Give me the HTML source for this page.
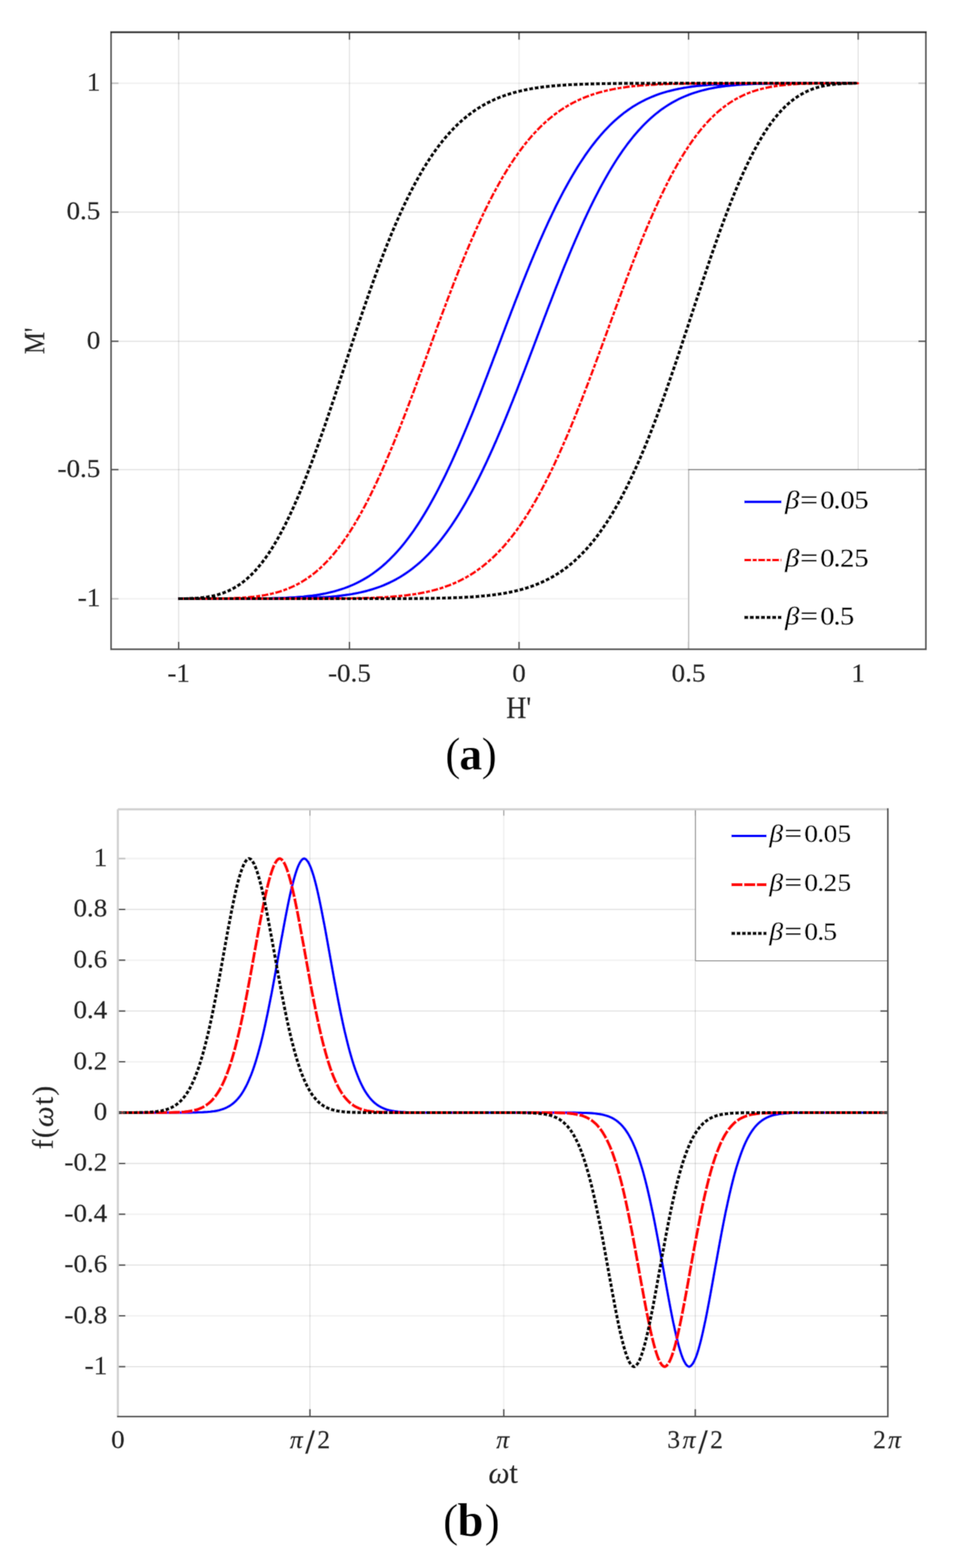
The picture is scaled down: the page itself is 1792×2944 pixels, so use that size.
<!DOCTYPE html>
<html><head><meta charset="utf-8"><title>Figure</title>
<style>html,body{margin:0;padding:0;background:#fff;width:1792px;height:2944px;overflow:hidden}svg{display:block}</style>
</head><body>
<svg width="1792" height="2944" viewBox="0 0 1792 2944">
<defs><filter id="soft" x="0" y="0" width="1792" height="2944" filterUnits="userSpaceOnUse"><feConvolveMatrix order="3" kernelMatrix="1 2 1 2 4 2 1 2 1" divisor="16" edgeMode="duplicate"/></filter></defs>
<g filter="url(#soft)">
<rect x="0" y="0" width="1792" height="2944" fill="#ffffff"/>
<path d="M335.6 60.5V1219M656.4 60.5V1219M1612 60.5V1219" stroke="#262626" stroke-opacity="0.14" stroke-width="2" fill="none"/>
<path d="M975 60.5V1219M1293.4 60.5V1219" stroke="#262626" stroke-opacity="0.065" stroke-width="2.8" fill="none"/>
<path d="M208.6 398.2H1739.2M208.6 640.8H1739.2M208.6 881.8H1739.2" stroke="#262626" stroke-opacity="0.14" stroke-width="2" fill="none"/>
<path d="M208.6 156.3H1739.2M208.6 1124.2H1739.2" stroke="#262626" stroke-opacity="0.065" stroke-width="2.8" fill="none"/>
<path d="M334.5 1124.1 L339.5 1124.1 L344.6 1124.1 L349.9 1124.1 L355.2 1124.1 L360.5 1124.1 L365.8 1124.1 L370.8 1124.1 L376.2 1124.1 L381.9 1124.1 L387.1 1124.1 L392.6 1124.1 L398.3 1124.1 L404.2 1124.1 L409.4 1124.1 L414.7 1124.1 L420.2 1124.1 L425.9 1124.1 L431.7 1124.1 L437.7 1124.1 L443.9 1124 L448.9 1124 L454.1 1124 L459.3 1124 L464.7 1123.9 L470.1 1123.9 L475.7 1123.9 L481.3 1123.8 L487.1 1123.7 L492.9 1123.7 L498.8 1123.6 L504.8 1123.5 L511 1123.3 L517.2 1123.1 L523.5 1123 L529.8 1122.7 L536.3 1122.4 L542.9 1122.1 L549.5 1121.7 L554.5 1121.4 L559.6 1121 L564.7 1120.6 L569.9 1120.2 L575.1 1119.6 L580.4 1119 L585.7 1118.4 L591 1117.7 L596.4 1116.9 L601.8 1116 L607.3 1115 L612.8 1113.9 L618.3 1112.6 L623.9 1111.3 L629.5 1109.8 L635.2 1108.2 L640.9 1106.4 L646.6 1104.5 L652.4 1102.4 L658.2 1100 L664.1 1097.5 L669.9 1094.8 L675.8 1091.8 L681.8 1088.5 L687.8 1085 L693.8 1081.3 L699.8 1077.2 L705.9 1072.8 L709.9 1069.7 L714 1066.5 L718.1 1063.1 L722.2 1059.5 L726.3 1055.8 L730.4 1051.9 L734.5 1047.8 L738.7 1043.6 L742.8 1039.2 L747 1034.6 L751.2 1029.8 L755.4 1024.9 L759.6 1019.7 L763.8 1014.3 L768 1008.8 L772.2 1003 L776.5 997.1 L780.7 990.9 L785 984.5 L789.3 977.9 L793.5 971.1 L797.8 964.1 L802.1 956.9 L806.4 949.5 L810.7 941.8 L815 934 L819.4 925.9 L823.7 917.6 L828 909.2 L832.4 900.5 L836.8 891.6 L838.9 887.1 L841.1 882.5 L843.3 877.9 L845.5 873.2 L847.7 868.5 L849.9 863.7 L852 858.9 L854.2 854.1 L856.4 849.1 L858.6 844.2 L860.8 839.2 L863 834.2 L865.2 829.1 L867.4 824 L869.6 818.8 L871.8 813.6 L874 808.3 L876.2 803.1 L878.4 797.7 L880.6 792.4 L882.8 787 L885.1 781.6 L887.3 776.1 L889.5 770.6 L891.7 765.1 L893.9 759.5 L896.1 753.9 L898.3 748.3 L900.6 742.7 L902.8 737 L905 731.3 L907.2 725.6 L909.4 719.8 L911.6 714.1 L913.9 708.3 L916.1 702.5 L918.3 696.7 L920.5 690.8 L922.8 685 L925 679.1 L927.2 673.2 L929.4 667.3 L931.7 661.5 L933.9 655.6 L936.1 649.7 L938.3 643.8 L940.6 637.8 L942.8 631.9 L945 626 L947.3 620.1 L949.5 614.2 L951.7 608.4 L953.9 602.5 L956.2 596.6 L958.4 590.8 L960.6 584.9 L962.9 579.1 L965.1 573.3 L967.3 567.5 L969.6 561.7 L971.8 556 L974 550.3 L976.2 544.6 L978.5 538.9 L980.7 533.2 L982.9 527.6 L985.2 522 L987.4 516.5 L989.6 510.9 L991.9 505.4 L994.1 499.9 L996.3 494.5 L998.5 489.1 L1000.8 483.7 L1003 478.4 L1005.2 473.1 L1007.5 467.9 L1009.7 462.7 L1011.9 457.5 L1014.1 452.3 L1016.4 447.3 L1018.6 442.2 L1020.8 437.2 L1023 432.3 L1025.3 427.3 L1027.5 422.5 L1029.7 417.6 L1031.9 412.9 L1034.2 408.1 L1036.4 403.5 L1038.6 398.8 L1040.8 394.3 L1043 389.7 L1045.2 385.2 L1049.7 376.4 L1054.1 367.8 L1058.5 359.4 L1063 351.2 L1067.4 343.3 L1071.8 335.5 L1076.2 327.9 L1080.6 320.6 L1085 313.4 L1089.4 306.5 L1093.8 299.8 L1098.1 293.3 L1102.5 287 L1106.9 280.9 L1111.2 275.1 L1115.6 269.4 L1119.9 263.9 L1124.3 258.6 L1128.6 253.5 L1132.9 248.7 L1137.2 243.9 L1141.5 239.4 L1145.8 235.1 L1150.1 230.9 L1154.4 226.9 L1158.7 223.1 L1162.9 219.5 L1167.2 216 L1171.4 212.6 L1175.7 209.4 L1179.9 206.4 L1184.1 203.5 L1188.3 200.7 L1194.6 196.8 L1200.9 193.2 L1207.1 189.9 L1213.3 186.8 L1219.5 184 L1225.7 181.3 L1231.8 178.9 L1237.9 176.7 L1244 174.7 L1250 172.9 L1256 171.2 L1262 169.7 L1268 168.3 L1273.9 167 L1279.8 165.9 L1285.6 164.8 L1291.5 163.9 L1297.2 163.1 L1303 162.3 L1308.7 161.6 L1314.4 161 L1320 160.5 L1325.6 160 L1331.2 159.5 L1336.7 159.1 L1342.2 158.8 L1347.6 158.5 L1353 158.2 L1358.4 158 L1363.7 157.8 L1368.9 157.6 L1374.2 157.4 L1379.3 157.3 L1384.5 157.1 L1389.6 157 L1394.6 156.9 L1399.6 156.8 L1406.2 156.7 L1412.7 156.7 L1419.2 156.6 L1425.5 156.5 L1431.7 156.5 L1437.9 156.5 L1444 156.4 L1450 156.4 L1455.8 156.4 L1461.6 156.4 L1467.3 156.4 L1472.9 156.3 L1478.4 156.3 L1483.8 156.3 L1489.1 156.3 L1494.3 156.3 L1499.4 156.3 L1505.6 156.3 L1511.7 156.3 L1517.6 156.3 L1523.3 156.3 L1528.9 156.3 L1534.3 156.3 L1539.5 156.3 L1544.6 156.3 L1550.4 156.3 L1556 156.3 L1561.3 156.3 L1566.4 156.3 L1571.9 156.3 L1577.2 156.3 L1582.7 156.3 L1587.7 156.3 L1592.8 156.3 L1598.2 156.3 L1603.4 156.3 L1608.5 156.3 L1608.7 156.3 L1603.4 156.3 L1598.2 156.3 L1592.8 156.3 L1587.7 156.3 L1582.7 156.3 L1577.2 156.3 L1571.9 156.3 L1566.4 156.3 L1561.3 156.3 L1556 156.3 L1550.4 156.3 L1544.6 156.3 L1539.5 156.3 L1534.3 156.3 L1528.9 156.3 L1523.3 156.3 L1517.6 156.3 L1511.7 156.3 L1505.6 156.4 L1499.4 156.4 L1494.3 156.4 L1489.1 156.4 L1483.8 156.4 L1478.4 156.5 L1472.9 156.5 L1467.3 156.6 L1461.6 156.6 L1455.8 156.7 L1450 156.8 L1444 156.9 L1437.9 157 L1431.7 157.2 L1425.5 157.3 L1419.2 157.6 L1412.7 157.8 L1406.2 158.1 L1399.6 158.5 L1394.6 158.8 L1389.6 159.1 L1384.5 159.5 L1379.3 159.9 L1374.2 160.4 L1368.9 161 L1363.7 161.6 L1358.4 162.2 L1353 163 L1347.6 163.8 L1342.2 164.8 L1336.7 165.8 L1331.2 166.9 L1325.6 168.2 L1320 169.6 L1314.4 171.1 L1308.7 172.8 L1303 174.6 L1297.2 176.6 L1291.5 178.8 L1285.6 181.2 L1279.8 183.8 L1273.9 186.6 L1268 189.7 L1262 193 L1256 196.6 L1250 200.5 L1244 204.6 L1239.9 207.6 L1235.9 210.7 L1231.8 213.9 L1227.7 217.3 L1223.6 220.9 L1219.5 224.6 L1215.4 228.5 L1211.3 232.6 L1207.1 236.8 L1203 241.2 L1198.8 245.8 L1194.6 250.6 L1190.4 255.5 L1186.2 260.7 L1182 266.1 L1177.8 271.6 L1173.6 277.4 L1169.3 283.3 L1165.1 289.5 L1160.8 295.9 L1156.5 302.5 L1152.3 309.3 L1148 316.3 L1143.7 323.5 L1139.4 330.9 L1135.1 338.6 L1130.8 346.4 L1126.4 354.5 L1122.1 362.8 L1117.8 371.2 L1113.4 379.9 L1109 388.8 L1106.9 393.3 L1104.7 397.9 L1102.5 402.5 L1100.3 407.2 L1098.1 411.9 L1095.9 416.7 L1093.8 421.5 L1091.6 426.3 L1089.4 431.3 L1087.2 436.2 L1085 441.2 L1082.8 446.2 L1080.6 451.3 L1078.4 456.4 L1076.2 461.6 L1074 466.8 L1071.8 472.1 L1069.6 477.3 L1067.4 482.7 L1065.2 488 L1063 493.4 L1060.7 498.8 L1058.5 504.3 L1056.3 509.8 L1054.1 515.3 L1051.9 520.9 L1049.7 526.5 L1047.5 532.1 L1045.2 537.7 L1043 543.4 L1040.8 549.1 L1038.6 554.8 L1036.4 560.6 L1034.2 566.3 L1031.9 572.1 L1029.7 577.9 L1027.5 583.7 L1025.3 589.6 L1023 595.4 L1020.8 601.3 L1018.6 607.2 L1016.4 613.1 L1014.1 618.9 L1011.9 624.8 L1009.7 630.7 L1007.5 636.6 L1005.2 642.6 L1003 648.5 L1000.8 654.4 L998.5 660.3 L996.3 666.2 L994.1 672 L991.9 677.9 L989.6 683.8 L987.4 689.6 L985.2 695.5 L982.9 701.3 L980.7 707.1 L978.5 712.9 L976.2 718.7 L974 724.4 L971.8 730.1 L969.6 735.8 L967.3 741.5 L965.1 747.2 L962.9 752.8 L960.6 758.4 L958.4 763.9 L956.2 769.5 L953.9 775 L951.7 780.5 L949.5 785.9 L947.3 791.3 L945 796.7 L942.8 802 L940.6 807.3 L938.3 812.5 L936.1 817.7 L933.9 822.9 L931.7 828.1 L929.4 833.1 L927.2 838.2 L925 843.2 L922.8 848.1 L920.5 853.1 L918.3 857.9 L916.1 862.8 L913.9 867.5 L911.6 872.3 L909.4 876.9 L907.2 881.6 L905 886.1 L902.8 890.7 L900.6 895.2 L896.1 904 L891.7 912.6 L887.3 921 L882.8 929.2 L878.4 937.1 L874 944.9 L869.6 952.5 L865.2 959.8 L860.8 967 L856.4 973.9 L852 980.6 L847.7 987.1 L843.3 993.4 L838.9 999.5 L834.6 1005.3 L830.2 1011 L825.9 1016.5 L821.5 1021.8 L817.2 1026.9 L812.9 1031.7 L808.6 1036.5 L804.3 1041 L800 1045.3 L795.7 1049.5 L791.4 1053.5 L787.1 1057.3 L782.9 1060.9 L778.6 1064.4 L774.4 1067.8 L770.1 1071 L765.9 1074 L761.7 1076.9 L757.5 1079.7 L751.2 1083.6 L744.9 1087.2 L738.7 1090.5 L732.5 1093.6 L726.3 1096.4 L720.1 1099.1 L714 1101.5 L707.9 1103.7 L701.8 1105.7 L695.8 1107.5 L689.8 1109.2 L683.8 1110.7 L677.8 1112.1 L671.9 1113.4 L666 1114.5 L660.2 1115.6 L654.3 1116.5 L648.6 1117.3 L642.8 1118.1 L637.1 1118.8 L631.4 1119.4 L625.8 1119.9 L620.2 1120.4 L614.6 1120.9 L609.1 1121.3 L603.6 1121.6 L598.2 1121.9 L592.8 1122.2 L587.4 1122.4 L582.1 1122.6 L576.9 1122.8 L571.6 1123 L566.5 1123.1 L561.3 1123.3 L556.2 1123.4 L551.2 1123.5 L546.2 1123.6 L539.6 1123.7 L533.1 1123.7 L526.6 1123.8 L520.3 1123.9 L514.1 1123.9 L507.9 1123.9 L501.8 1124 L495.8 1124 L490 1124 L484.2 1124 L478.5 1124 L472.9 1124.1 L467.4 1124.1 L462 1124.1 L456.7 1124.1 L451.5 1124.1 L446.4 1124.1 L440.2 1124.1 L434.1 1124.1 L428.2 1124.1 L422.5 1124.1 L416.9 1124.1 L411.5 1124.1 L406.3 1124.1 L401.2 1124.1 L395.4 1124.1 L389.8 1124.1 L384.5 1124.1 L379.4 1124.1 L373.9 1124.1 L368.6 1124.1 L363.1 1124.1 L358.1 1124.1 L353 1124.1 L347.6 1124.1 L342.4 1124.1 L337.3 1124.1 L334.5 1124.1" stroke="#0000ff" stroke-width="5.0" fill="none" stroke-linejoin="round"/>
<path d="M334.5 1124.1 L339.5 1124.1 L344.6 1124.1 L349.9 1124.1 L355.2 1124.1 L360.5 1124.1 L365.8 1124.1 L370.8 1124.1 L376.2 1124.1 L381.9 1124 L387.1 1124 L392.6 1124 L398.3 1123.9 L404.2 1123.9 L409.4 1123.8 L414.7 1123.7 L420.2 1123.6 L425.9 1123.5 L431.7 1123.3 L437.7 1123.1 L443.9 1122.8 L448.9 1122.6 L454.1 1122.3 L459.3 1121.9 L464.7 1121.5 L470.1 1121 L475.7 1120.5 L481.3 1119.8 L487.1 1119 L492.9 1118.1 L498.8 1117.1 L504.8 1115.9 L511 1114.6 L517.2 1113 L523.5 1111.3 L528.2 1109.8 L533.1 1108.2 L537.9 1106.4 L542.9 1104.4 L547.8 1102.3 L552.8 1100 L557.9 1097.4 L563 1094.7 L568.2 1091.7 L573.4 1088.4 L578.6 1084.9 L583.9 1081.1 L589.2 1077.1 L594.6 1072.7 L600 1068 L605.5 1062.9 L609.1 1059.3 L612.8 1055.6 L616.5 1051.7 L620.2 1047.6 L623.9 1043.4 L627.7 1039 L631.4 1034.4 L635.2 1029.6 L639 1024.6 L642.8 1019.5 L646.6 1014.1 L650.5 1008.5 L654.3 1002.8 L658.2 996.8 L662.1 990.6 L666 984.2 L669.9 977.6 L673.9 970.8 L677.8 963.8 L681.8 956.6 L685.8 949.1 L689.8 941.5 L693.8 933.6 L697.8 925.6 L701.8 917.3 L705.9 908.8 L709.9 900.1 L714 891.2 L718.1 882.1 L720.1 877.4 L722.2 872.8 L724.2 868.1 L726.3 863.3 L728.3 858.5 L730.4 853.6 L732.5 848.7 L734.5 843.7 L736.6 838.7 L738.7 833.7 L740.8 828.6 L742.8 823.5 L744.9 818.3 L747 813.1 L749.1 807.9 L751.2 802.6 L753.3 797.3 L755.4 791.9 L757.5 786.5 L759.6 781.1 L761.7 775.6 L763.8 770.1 L765.9 764.6 L768 759 L770.1 753.4 L772.2 747.8 L774.4 742.1 L776.5 736.5 L778.6 730.8 L780.7 725 L782.9 719.3 L785 713.5 L787.1 707.7 L789.3 701.9 L791.4 696.1 L793.5 690.3 L795.7 684.4 L797.8 678.6 L800 672.7 L802.1 666.8 L804.3 660.9 L806.4 655 L808.6 649.1 L810.7 643.2 L812.9 637.3 L815 631.4 L817.2 625.5 L819.4 619.6 L821.5 613.7 L823.7 607.8 L825.9 602 L828 596.1 L830.2 590.2 L832.4 584.4 L834.6 578.6 L836.8 572.8 L838.9 567 L841.1 561.2 L843.3 555.5 L845.5 549.8 L847.7 544.1 L849.9 538.4 L852 532.7 L854.2 527.1 L856.4 521.5 L858.6 516 L860.8 510.4 L863 504.9 L865.2 499.4 L867.4 494 L869.6 488.6 L871.8 483.3 L874 477.9 L876.2 472.6 L878.4 467.4 L880.6 462.2 L882.8 457 L885.1 451.9 L887.3 446.8 L889.5 441.8 L891.7 436.8 L893.9 431.8 L896.1 426.9 L898.3 422 L900.6 417.2 L902.8 412.4 L905 407.7 L907.2 403 L909.4 398.4 L911.6 393.8 L913.9 389.3 L918.3 380.4 L922.8 371.7 L927.2 363.2 L931.7 354.9 L936.1 346.9 L940.6 339 L945 331.3 L949.5 323.9 L953.9 316.7 L958.4 309.6 L962.9 302.8 L967.3 296.2 L971.8 289.9 L976.2 283.7 L980.7 277.7 L985.2 271.9 L989.6 266.4 L994.1 261 L998.5 255.8 L1003 250.9 L1007.5 246.1 L1011.9 241.5 L1016.4 237 L1020.8 232.8 L1025.3 228.7 L1029.7 224.8 L1034.2 221.1 L1038.6 217.5 L1043 214.1 L1047.5 210.9 L1051.9 207.8 L1056.3 204.8 L1060.7 202 L1065.2 199.3 L1069.6 196.7 L1074 194.3 L1080.6 190.9 L1087.2 187.7 L1093.8 184.8 L1100.3 182.1 L1106.9 179.7 L1113.4 177.4 L1119.9 175.3 L1126.4 173.4 L1132.9 171.7 L1139.4 170.1 L1145.8 168.7 L1152.3 167.4 L1158.7 166.2 L1165.1 165.1 L1171.4 164.2 L1177.8 163.3 L1184.1 162.5 L1190.4 161.8 L1196.7 161.2 L1203 160.6 L1209.2 160.1 L1215.4 159.7 L1221.6 159.2 L1227.7 158.9 L1233.9 158.6 L1239.9 158.3 L1246 158 L1252 157.8 L1258 157.6 L1264 157.5 L1270 157.3 L1275.9 157.2 L1281.7 157.1 L1287.6 157 L1293.4 156.9 L1299.2 156.8 L1304.9 156.7 L1310.6 156.7 L1316.3 156.6 L1321.9 156.6 L1327.5 156.5 L1333 156.5 L1338.5 156.5 L1344 156.4 L1349.4 156.4 L1354.8 156.4 L1360.1 156.4 L1365.4 156.4 L1370.7 156.4 L1375.9 156.4 L1381.1 156.3 L1386.2 156.3 L1391.3 156.3 L1396.3 156.3 L1402.9 156.3 L1409.5 156.3 L1416 156.3 L1422.3 156.3 L1428.6 156.3 L1434.8 156.3 L1441 156.3 L1447 156.3 L1452.9 156.3 L1458.7 156.3 L1464.5 156.3 L1470.1 156.3 L1475.7 156.3 L1481.1 156.3 L1486.5 156.3 L1491.7 156.3 L1496.9 156.3 L1501.9 156.3 L1508.1 156.3 L1514.1 156.3 L1519.9 156.3 L1525.6 156.3 L1531.1 156.3 L1536.4 156.3 L1541.6 156.3 L1547.5 156.3 L1553.2 156.3 L1558.7 156.3 L1563.9 156.3 L1569.6 156.3 L1575 156.3 L1580 156.3 L1585.3 156.3 L1590.6 156.3 L1595.9 156.3 L1601.2 156.3 L1606.3 156.3 L1611.3 156.3 L1606.3 156.3 L1601.2 156.3 L1595.9 156.3 L1590.6 156.3 L1585.3 156.3 L1580 156.3 L1575 156.3 L1569.6 156.3 L1563.9 156.4 L1558.7 156.4 L1553.2 156.4 L1547.5 156.5 L1541.6 156.5 L1536.4 156.6 L1531.1 156.7 L1525.6 156.8 L1519.9 156.9 L1514.1 157.1 L1508.1 157.3 L1501.9 157.6 L1496.9 157.8 L1491.7 158.1 L1486.5 158.5 L1481.1 158.9 L1475.7 159.4 L1470.1 159.9 L1464.5 160.6 L1458.7 161.4 L1452.9 162.3 L1447 163.3 L1441 164.5 L1434.8 165.8 L1428.6 167.4 L1422.3 169.1 L1417.6 170.6 L1412.7 172.2 L1407.9 174 L1402.9 176 L1398 178.1 L1393 180.4 L1387.9 183 L1382.8 185.7 L1377.6 188.7 L1372.4 192 L1367.2 195.5 L1361.9 199.3 L1356.6 203.3 L1351.2 207.7 L1345.8 212.4 L1340.3 217.5 L1336.7 221.1 L1333 224.8 L1329.3 228.7 L1325.6 232.8 L1321.9 237 L1318.1 241.4 L1314.4 246 L1310.6 250.8 L1306.8 255.8 L1303 260.9 L1299.2 266.3 L1295.3 271.9 L1291.5 277.6 L1287.6 283.6 L1283.7 289.8 L1279.8 296.2 L1275.9 302.8 L1271.9 309.6 L1268 316.6 L1264 323.8 L1260 331.3 L1256 338.9 L1252 346.8 L1248 354.8 L1244 363.1 L1239.9 371.6 L1235.9 380.3 L1231.8 389.2 L1227.7 398.3 L1225.7 403 L1223.6 407.6 L1221.6 412.3 L1219.5 417.1 L1217.5 421.9 L1215.4 426.8 L1213.3 431.7 L1211.3 436.7 L1209.2 441.7 L1207.1 446.7 L1205 451.8 L1203 456.9 L1200.9 462.1 L1198.8 467.3 L1196.7 472.5 L1194.6 477.8 L1192.5 483.1 L1190.4 488.5 L1188.3 493.9 L1186.2 499.3 L1184.1 504.8 L1182 510.3 L1179.9 515.8 L1177.8 521.4 L1175.7 527 L1173.6 532.6 L1171.4 538.3 L1169.3 543.9 L1167.2 549.6 L1165.1 555.4 L1162.9 561.1 L1160.8 566.9 L1158.7 572.7 L1156.5 578.5 L1154.4 584.3 L1152.3 590.1 L1150.1 596 L1148 601.8 L1145.8 607.7 L1143.7 613.6 L1141.5 619.5 L1139.4 625.4 L1137.2 631.3 L1135.1 637.2 L1132.9 643.1 L1130.8 649 L1128.6 654.9 L1126.4 660.8 L1124.3 666.7 L1122.1 672.6 L1119.9 678.4 L1117.8 684.3 L1115.6 690.2 L1113.4 696 L1111.2 701.8 L1109 707.6 L1106.9 713.4 L1104.7 719.2 L1102.5 724.9 L1100.3 730.6 L1098.1 736.3 L1095.9 742 L1093.8 747.7 L1091.6 753.3 L1089.4 758.9 L1087.2 764.4 L1085 770 L1082.8 775.5 L1080.6 781 L1078.4 786.4 L1076.2 791.8 L1074 797.1 L1071.8 802.5 L1069.6 807.8 L1067.4 813 L1065.2 818.2 L1063 823.4 L1060.7 828.5 L1058.5 833.6 L1056.3 838.6 L1054.1 843.6 L1051.9 848.6 L1049.7 853.5 L1047.5 858.4 L1045.2 863.2 L1043 868 L1040.8 872.7 L1038.6 877.4 L1036.4 882 L1034.2 886.6 L1031.9 891.1 L1027.5 900 L1023 908.7 L1018.6 917.2 L1014.1 925.5 L1009.7 933.5 L1005.2 941.4 L1000.8 949.1 L996.3 956.5 L991.9 963.7 L987.4 970.8 L982.9 977.6 L978.5 984.2 L974 990.5 L969.6 996.7 L965.1 1002.7 L960.6 1008.5 L956.2 1014 L951.7 1019.4 L947.3 1024.6 L942.8 1029.5 L938.3 1034.3 L933.9 1038.9 L929.4 1043.4 L925 1047.6 L920.5 1051.7 L916.1 1055.6 L911.6 1059.3 L907.2 1062.9 L902.8 1066.3 L898.3 1069.5 L893.9 1072.6 L889.5 1075.6 L885.1 1078.4 L880.6 1081.1 L876.2 1083.7 L871.8 1086.1 L865.2 1089.5 L858.6 1092.7 L852 1095.6 L845.5 1098.3 L838.9 1100.7 L832.4 1103 L825.9 1105.1 L819.4 1107 L812.9 1108.7 L806.4 1110.3 L800 1111.7 L793.5 1113 L787.1 1114.2 L780.7 1115.3 L774.4 1116.2 L768 1117.1 L761.7 1117.9 L755.4 1118.6 L749.1 1119.2 L742.8 1119.8 L736.6 1120.3 L730.4 1120.7 L724.2 1121.2 L718.1 1121.5 L711.9 1121.8 L705.9 1122.1 L699.8 1122.4 L693.8 1122.6 L687.8 1122.8 L681.8 1122.9 L675.8 1123.1 L669.9 1123.2 L664.1 1123.3 L658.2 1123.4 L652.4 1123.5 L646.6 1123.6 L640.9 1123.7 L635.2 1123.7 L629.5 1123.8 L623.9 1123.8 L618.3 1123.9 L612.8 1123.9 L607.3 1123.9 L601.8 1124 L596.4 1124 L591 1124 L585.7 1124 L580.4 1124 L575.1 1124 L569.9 1124 L564.7 1124.1 L559.6 1124.1 L554.5 1124.1 L549.5 1124.1 L542.9 1124.1 L536.3 1124.1 L529.8 1124.1 L523.5 1124.1 L517.2 1124.1 L511 1124.1 L504.8 1124.1 L498.8 1124.1 L492.9 1124.1 L487.1 1124.1 L481.3 1124.1 L475.7 1124.1 L470.1 1124.1 L464.7 1124.1 L459.3 1124.1 L454.1 1124.1 L448.9 1124.1 L443.9 1124.1 L437.7 1124.1 L431.7 1124.1 L425.9 1124.1 L420.2 1124.1 L414.7 1124.1 L409.4 1124.1 L404.2 1124.1 L398.3 1124.1 L392.6 1124.1 L387.1 1124.1 L381.9 1124.1 L376.2 1124.1 L370.8 1124.1 L365.8 1124.1 L360.5 1124.1 L355.2 1124.1 L349.9 1124.1 L344.6 1124.1 L339.5 1124.1 L334.5 1124.1 L334.5 1124.1" stroke="#ff0000" stroke-width="5.0" fill="none" stroke-linejoin="round" stroke-dasharray="13 2.6 8 2.6"/>
<path d="M334.5 1124.1 L339.5 1124 L344.6 1124 L349.9 1123.9 L355.2 1123.7 L360.5 1123.5 L365.8 1123.2 L370.8 1122.9 L376.2 1122.4 L381.9 1121.8 L387.1 1121.1 L392.6 1120.3 L398.3 1119.2 L403.2 1118.1 L408.3 1116.8 L413.6 1115.2 L419.1 1113.4 L424.7 1111.2 L429.4 1109.2 L434.1 1106.9 L438.9 1104.3 L443.9 1101.5 L448.9 1098.2 L454.1 1094.6 L459.3 1090.5 L463.3 1087.2 L467.4 1083.6 L471.5 1079.7 L475.7 1075.5 L479.9 1071 L484.2 1066.1 L488.5 1060.9 L492.9 1055.4 L497.3 1049.5 L500.3 1045.3 L503.3 1041 L506.4 1036.5 L509.4 1031.7 L512.5 1026.9 L515.6 1021.8 L518.7 1016.5 L521.9 1011 L525 1005.3 L528.2 999.5 L531.4 993.4 L534.7 987.1 L537.9 980.6 L541.2 973.9 L544.5 967 L547.8 959.8 L551.2 952.5 L554.5 944.9 L557.9 937.1 L561.3 929.2 L564.7 921 L568.2 912.6 L571.6 904 L575.1 895.2 L578.6 886.1 L582.1 876.9 L583.9 872.2 L585.7 867.5 L587.4 862.7 L589.2 857.9 L591 853.1 L592.8 848.1 L594.6 843.2 L596.4 838.2 L598.2 833.1 L600 828 L601.8 822.9 L603.6 817.7 L605.5 812.5 L607.3 807.3 L609.1 802 L611 796.7 L612.8 791.3 L614.6 785.9 L616.5 780.5 L618.3 775 L620.2 769.5 L622.1 763.9 L623.9 758.4 L625.8 752.8 L627.7 747.2 L629.5 741.5 L631.4 735.8 L633.3 730.1 L635.2 724.4 L637.1 718.7 L639 712.9 L640.9 707.1 L642.8 701.3 L644.7 695.5 L646.6 689.6 L648.6 683.8 L650.5 677.9 L652.4 672 L654.3 666.2 L656.3 660.3 L658.2 654.4 L660.2 648.5 L662.1 642.6 L664.1 636.6 L666 630.7 L668 624.8 L669.9 618.9 L671.9 613 L673.9 607.2 L675.8 601.3 L677.8 595.4 L679.8 589.6 L681.8 583.7 L683.8 577.9 L685.8 572.1 L687.8 566.3 L689.8 560.6 L691.8 554.8 L693.8 549.1 L695.8 543.4 L697.8 537.7 L699.8 532.1 L701.8 526.5 L703.8 520.9 L705.9 515.3 L707.9 509.8 L709.9 504.3 L711.9 498.8 L714 493.4 L716 488 L718.1 482.7 L720.1 477.3 L722.2 472 L724.2 466.8 L726.3 461.6 L728.3 456.4 L730.4 451.3 L732.5 446.2 L734.5 441.2 L736.6 436.2 L738.7 431.3 L740.8 426.3 L742.8 421.5 L744.9 416.7 L747 411.9 L749.1 407.2 L751.2 402.5 L753.3 397.9 L755.4 393.3 L759.6 384.3 L763.8 375.6 L768 367 L772.2 358.6 L776.5 350.4 L780.7 342.5 L785 334.7 L789.3 327.2 L793.5 319.8 L797.8 312.7 L802.1 305.8 L806.4 299.1 L810.7 292.7 L815 286.4 L819.4 280.3 L823.7 274.5 L828 268.8 L832.4 263.4 L836.8 258.1 L841.1 253 L845.5 248.2 L849.9 243.5 L854.2 239 L858.6 234.7 L863 230.5 L867.4 226.5 L871.8 222.7 L876.2 219.1 L880.6 215.6 L885.1 212.3 L889.5 209.1 L893.9 206.1 L898.3 203.2 L902.8 200.5 L907.2 197.8 L911.6 195.4 L916.1 193 L922.8 189.7 L929.4 186.6 L936.1 183.8 L942.8 181.2 L949.5 178.8 L956.2 176.6 L962.9 174.6 L969.6 172.8 L976.2 171.1 L982.9 169.6 L989.6 168.2 L996.3 166.9 L1003 165.8 L1009.7 164.8 L1016.4 163.8 L1023 163 L1029.7 162.2 L1036.4 161.6 L1043 161 L1049.7 160.4 L1056.3 159.9 L1063 159.5 L1069.6 159.1 L1076.2 158.8 L1082.8 158.5 L1089.4 158.2 L1095.9 158 L1102.5 157.7 L1109 157.6 L1115.6 157.4 L1122.1 157.3 L1128.6 157.1 L1135.1 157 L1141.5 156.9 L1148 156.8 L1154.4 156.8 L1160.8 156.7 L1167.2 156.6 L1173.6 156.6 L1179.9 156.5 L1186.2 156.5 L1192.5 156.5 L1198.8 156.5 L1205 156.4 L1211.3 156.4 L1217.5 156.4 L1223.6 156.4 L1229.8 156.4 L1235.9 156.4 L1242 156.3 L1248 156.3 L1254 156.3 L1260 156.3 L1266 156.3 L1271.9 156.3 L1277.8 156.3 L1283.7 156.3 L1289.5 156.3 L1295.3 156.3 L1301.1 156.3 L1306.8 156.3 L1312.5 156.3 L1318.1 156.3 L1323.7 156.3 L1329.3 156.3 L1334.8 156.3 L1340.3 156.3 L1345.8 156.3 L1351.2 156.3 L1356.6 156.3 L1361.9 156.3 L1367.2 156.3 L1372.4 156.3 L1377.6 156.3 L1382.8 156.3 L1387.9 156.3 L1393 156.3 L1398 156.3 L1404.6 156.3 L1411.1 156.3 L1417.6 156.3 L1423.9 156.3 L1430.2 156.3 L1436.4 156.3 L1442.5 156.3 L1448.5 156.3 L1454.4 156.3 L1460.2 156.3 L1465.9 156.3 L1471.5 156.3 L1477 156.3 L1482.5 156.3 L1487.8 156.3 L1493 156.3 L1498.1 156.3 L1503.2 156.3 L1509.3 156.3 L1515.3 156.3 L1521.1 156.3 L1526.7 156.3 L1532.2 156.3 L1537.5 156.3 L1542.6 156.3 L1548.5 156.3 L1554.2 156.3 L1559.6 156.3 L1564.7 156.3 L1570.4 156.3 L1575.7 156.3 L1581.4 156.3 L1586.5 156.3 L1591.8 156.3 L1596.9 156.3 L1602 156.3 L1607.1 156.3 L1607.3 156.3 L1602 156.4 L1596.9 156.5 L1591.8 156.6 L1586.5 156.8 L1581.4 157.1 L1575.7 157.5 L1570.4 157.9 L1564.7 158.5 L1559.6 159.1 L1554.2 160 L1548.5 161 L1543.6 162.1 L1538.5 163.3 L1533.2 164.8 L1527.8 166.6 L1522.2 168.7 L1516.4 171.2 L1511.7 173.5 L1506.9 176.1 L1501.9 178.9 L1496.9 182.2 L1491.7 185.8 L1486.5 189.9 L1482.5 193.2 L1478.4 196.8 L1474.3 200.7 L1470.1 204.9 L1465.9 209.4 L1461.6 214.3 L1457.3 219.5 L1452.9 225 L1448.5 230.9 L1445.5 235.1 L1442.5 239.4 L1439.4 243.9 L1436.4 248.7 L1433.3 253.5 L1430.2 258.6 L1427.1 263.9 L1423.9 269.4 L1420.8 275.1 L1417.6 280.9 L1414.4 287 L1411.1 293.3 L1407.9 299.8 L1404.6 306.5 L1401.3 313.4 L1398 320.6 L1394.6 327.9 L1391.3 335.5 L1387.9 343.3 L1384.5 351.2 L1381.1 359.4 L1377.6 367.8 L1374.2 376.4 L1370.7 385.2 L1367.2 394.3 L1363.7 403.5 L1361.9 408.2 L1360.1 412.9 L1358.4 417.7 L1356.6 422.5 L1354.8 427.3 L1353 432.3 L1351.2 437.2 L1349.4 442.2 L1347.6 447.3 L1345.8 452.4 L1344 457.5 L1342.2 462.7 L1340.3 467.9 L1338.5 473.1 L1336.7 478.4 L1334.8 483.7 L1333 489.1 L1331.2 494.5 L1329.3 499.9 L1327.5 505.4 L1325.6 510.9 L1323.7 516.5 L1321.9 522 L1320 527.6 L1318.1 533.2 L1316.3 538.9 L1314.4 544.6 L1312.5 550.3 L1310.6 556 L1308.7 561.7 L1306.8 567.5 L1304.9 573.3 L1303 579.1 L1301.1 584.9 L1299.2 590.8 L1297.2 596.6 L1295.3 602.5 L1293.4 608.4 L1291.5 614.2 L1289.5 620.1 L1287.6 626 L1285.6 631.9 L1283.7 637.8 L1281.7 643.8 L1279.8 649.7 L1277.8 655.6 L1275.9 661.5 L1273.9 667.4 L1271.9 673.2 L1270 679.1 L1268 685 L1266 690.8 L1264 696.7 L1262 702.5 L1260 708.3 L1258 714.1 L1256 719.8 L1254 725.6 L1252 731.3 L1250 737 L1248 742.7 L1246 748.3 L1244 753.9 L1242 759.5 L1239.9 765.1 L1237.9 770.6 L1235.9 776.1 L1233.9 781.6 L1231.8 787 L1229.8 792.4 L1227.7 797.7 L1225.7 803.1 L1223.6 808.4 L1221.6 813.6 L1219.5 818.8 L1217.5 824 L1215.4 829.1 L1213.3 834.2 L1211.3 839.2 L1209.2 844.2 L1207.1 849.1 L1205 854.1 L1203 858.9 L1200.9 863.7 L1198.8 868.5 L1196.7 873.2 L1194.6 877.9 L1192.5 882.5 L1190.4 887.1 L1186.2 896.1 L1182 904.8 L1177.8 913.4 L1173.6 921.8 L1169.3 930 L1165.1 937.9 L1160.8 945.7 L1156.5 953.2 L1152.3 960.6 L1148 967.7 L1143.7 974.6 L1139.4 981.3 L1135.1 987.7 L1130.8 994 L1126.4 1000.1 L1122.1 1005.9 L1117.8 1011.6 L1113.4 1017 L1109 1022.3 L1104.7 1027.4 L1100.3 1032.2 L1095.9 1036.9 L1091.6 1041.4 L1087.2 1045.7 L1082.8 1049.9 L1078.4 1053.9 L1074 1057.7 L1069.6 1061.3 L1065.2 1064.8 L1060.7 1068.1 L1056.3 1071.3 L1051.9 1074.3 L1047.5 1077.2 L1043 1079.9 L1038.6 1082.6 L1034.2 1085 L1029.7 1087.4 L1023 1090.7 L1016.4 1093.8 L1009.7 1096.6 L1003 1099.2 L996.3 1101.6 L989.6 1103.8 L982.9 1105.8 L976.2 1107.6 L969.6 1109.3 L962.9 1110.8 L956.2 1112.2 L949.5 1113.5 L942.8 1114.6 L936.1 1115.6 L929.4 1116.6 L922.8 1117.4 L916.1 1118.2 L909.4 1118.8 L902.8 1119.4 L896.1 1120 L889.5 1120.5 L882.8 1120.9 L876.2 1121.3 L869.6 1121.6 L863 1121.9 L856.4 1122.2 L849.9 1122.4 L843.3 1122.7 L836.8 1122.8 L830.2 1123 L823.7 1123.1 L817.2 1123.3 L810.7 1123.4 L804.3 1123.5 L797.8 1123.6 L791.4 1123.6 L785 1123.7 L778.6 1123.8 L772.2 1123.8 L765.9 1123.9 L759.6 1123.9 L753.3 1123.9 L747 1123.9 L740.8 1124 L734.5 1124 L728.3 1124 L722.2 1124 L716 1124 L709.9 1124 L703.8 1124.1 L697.8 1124.1 L691.8 1124.1 L685.8 1124.1 L679.8 1124.1 L673.9 1124.1 L668 1124.1 L662.1 1124.1 L656.3 1124.1 L650.5 1124.1 L644.7 1124.1 L639 1124.1 L633.3 1124.1 L627.7 1124.1 L622.1 1124.1 L616.5 1124.1 L611 1124.1 L605.5 1124.1 L600 1124.1 L594.6 1124.1 L589.2 1124.1 L583.9 1124.1 L578.6 1124.1 L573.4 1124.1 L568.2 1124.1 L563 1124.1 L557.9 1124.1 L552.8 1124.1 L547.8 1124.1 L541.2 1124.1 L534.7 1124.1 L528.2 1124.1 L521.9 1124.1 L515.6 1124.1 L509.4 1124.1 L503.3 1124.1 L497.3 1124.1 L491.4 1124.1 L485.6 1124.1 L479.9 1124.1 L474.3 1124.1 L468.8 1124.1 L463.3 1124.1 L458 1124.1 L452.8 1124.1 L447.7 1124.1 L442.6 1124.1 L436.5 1124.1 L430.5 1124.1 L424.7 1124.1 L419.1 1124.1 L413.6 1124.1 L408.3 1124.1 L403.2 1124.1 L397.3 1124.1 L391.6 1124.1 L386.2 1124.1 L381.1 1124.1 L375.4 1124.1 L370.1 1124.1 L364.4 1124.1 L359.3 1124.1 L354 1124.1 L348.9 1124.1 L343.8 1124.1 L338.7 1124.1 L334.5 1124.1" stroke="#000000" stroke-width="6.0" fill="none" stroke-linejoin="round" stroke-dasharray="7.4 3.1"/>
<path d="M335.6 1219v-14M335.6 60.5v14M656.4 1219v-14M656.4 60.5v14M975 1219v-14M975 60.5v14M1293.4 1219v-14M1293.4 60.5v14M1612 1219v-14M1612 60.5v14M208.6 398.2h14M1739.2 398.2h-14M208.6 640.8h14M1739.2 640.8h-14M208.6 881.8h14M1739.2 881.8h-14" stroke="#545454" stroke-width="3.0" fill="none"/>
<path d="M208.6 156.3h14M1739.2 156.3h-14M208.6 1124.2h14M1739.2 1124.2h-14" stroke="#c2c2c2" stroke-width="3.0" fill="none"/>
<rect x="1292.1" y="881.8" width="447.1" height="337.2" fill="#ffffff"/>
<path d="M1293.6 881.8V1219.0" stroke="#b0b0b0" stroke-width="2" fill="none"/>
<path d="M1292.6 881.8H1739.2" stroke="#707070" stroke-width="2" fill="none"/>
<path d="M1398 942.3H1468" stroke="#0000ff" stroke-width="5.0" fill="none"/>
<text font-size="48" fill="#000" stroke="#000" stroke-width="0.35" transform="scale(1.12 1)" font-family='"Liberation Serif", serif'><tspan x="1316.67" y="955" font-style="italic">β</tspan><tspan x="1342" y="956" font-size="53">=</tspan><tspan x="1375.67" y="955">0</tspan><tspan x="1397.73" y="955">.</tspan><tspan x="1409.33" y="955">0</tspan><tspan x="1432.93" y="955">5</tspan></text>
<path d="M1398 1051.5H1468" stroke="#ff0000" stroke-width="5.0" fill="none" stroke-dasharray="13 2.6 8 2.6"/>
<text font-size="48" fill="#000" stroke="#000" stroke-width="0.35" transform="scale(1.12 1)" font-family='"Liberation Serif", serif'><tspan x="1316.67" y="1064.3" font-style="italic">β</tspan><tspan x="1342" y="1065.3" font-size="53">=</tspan><tspan x="1375.67" y="1064.3">0</tspan><tspan x="1397.73" y="1064.3">.</tspan><tspan x="1409.05" y="1064.3">2</tspan><tspan x="1432.93" y="1064.3">5</tspan></text>
<path d="M1398 1159.3H1468" stroke="#000000" stroke-width="6.0" fill="none" stroke-dasharray="7.4 3.1"/>
<text font-size="48" fill="#000" stroke="#000" stroke-width="0.35" transform="scale(1.12 1)" font-family='"Liberation Serif", serif'><tspan x="1316.67" y="1173" font-style="italic">β</tspan><tspan x="1342" y="1174" font-size="53">=</tspan><tspan x="1375.67" y="1173">0</tspan><tspan x="1397.73" y="1173">.</tspan><tspan x="1408.82" y="1173">5</tspan></text>
<rect x="208.6" y="60.5" width="1530.6" height="1158.5" stroke="#545454" stroke-width="3.3" fill="none"/>
<path d="M207.0 60.5H1740.8" stroke="#2e2e2e" stroke-width="3.3" fill="none"/>
<text font-size="48" text-anchor="middle" fill="#262626" stroke="#262626" stroke-width="0.8" font-family='"Liberation Serif", serif' transform="translate(335.6 1279.5) scale(1.06 1)">-1</text>
<text font-size="48" text-anchor="middle" fill="#262626" stroke="#262626" stroke-width="0.8" font-family='"Liberation Serif", serif' transform="translate(656.4 1279.5) scale(1.06 1)">-0.5</text>
<text font-size="48" text-anchor="middle" fill="#262626" stroke="#262626" stroke-width="0.8" font-family='"Liberation Serif", serif' transform="translate(975 1279.5) scale(1.06 1)">0</text>
<text font-size="48" text-anchor="middle" fill="#262626" stroke="#262626" stroke-width="0.8" font-family='"Liberation Serif", serif' transform="translate(1293.4 1279.5) scale(1.06 1)">0.5</text>
<text font-size="48" text-anchor="middle" fill="#262626" stroke="#262626" stroke-width="0.8" font-family='"Liberation Serif", serif' transform="translate(1612 1279.5) scale(1.06 1)">1</text>
<text font-size="48" text-anchor="end" fill="#262626" stroke="#262626" stroke-width="0.8" font-family='"Liberation Serif", serif' transform="translate(188.5 170.3) scale(1.06 1)">1</text>
<text font-size="48" text-anchor="end" fill="#262626" stroke="#262626" stroke-width="0.8" font-family='"Liberation Serif", serif' transform="translate(188.5 412.2) scale(1.06 1)">0.5</text>
<text font-size="48" text-anchor="end" fill="#262626" stroke="#262626" stroke-width="0.8" font-family='"Liberation Serif", serif' transform="translate(188.5 654.8) scale(1.06 1)">0</text>
<text font-size="48" text-anchor="end" fill="#262626" stroke="#262626" stroke-width="0.8" font-family='"Liberation Serif", serif' transform="translate(188.5 895.8) scale(1.06 1)">-0.5</text>
<text font-size="48" text-anchor="end" fill="#262626" stroke="#262626" stroke-width="0.8" font-family='"Liberation Serif", serif' transform="translate(188.5 1138.2) scale(1.06 1)">-1</text>
<text x="0" y="0" font-size="56" text-anchor="middle" fill="#262626" stroke="#262626" stroke-width="0.8" font-family='"Liberation Serif", serif' transform="translate(974.5 1347.5) scale(0.93 1)">H'</text>
<text x="0" y="0" font-size="54" text-anchor="middle" fill="#262626" stroke="#262626" stroke-width="0.8" font-family='"Liberation Serif", serif' transform="translate(82.5 640) rotate(-90) scale(0.86 1)">M'</text>
<text font-size="86" fill="#000" font-family='"Liberation Serif", serif'><tspan x="836.22" y="1444.8">(</tspan><tspan x="862.83" y="1444.8" font-weight="bold">a</tspan><tspan x="904.73" y="1444.8">)</tspan></text>
<path d="M582.2 1519.5V2659.7M1306 1519.5V2659.7" stroke="#262626" stroke-opacity="0.14" stroke-width="2" fill="none"/>
<path d="M946.3 1519.5V2659.7" stroke="#262626" stroke-opacity="0.065" stroke-width="2.8" fill="none"/>
<path d="M221.4 1707.4H1667.7M221.4 1898.2H1667.7M221.4 2089H1667.7M221.4 2184.4H1667.7M221.4 2375.2H1667.7M221.4 2566H1667.7" stroke="#262626" stroke-opacity="0.14" stroke-width="2" fill="none"/>
<path d="M221.4 1612H1667.7M221.4 1802.8H1667.7M221.4 1993.6H1667.7M221.4 2279.8H1667.7M221.4 2470.6H1667.7" stroke="#262626" stroke-opacity="0.065" stroke-width="2.8" fill="none"/>
<path d="M221.4 2089 L226.8 2089 L232.3 2089 L237.7 2089 L243.1 2089 L248.5 2089 L254 2089 L259.4 2089 L264.8 2089 L270.2 2089 L275.7 2089 L281.1 2089 L286.5 2089 L292 2089 L297.4 2089 L302.8 2089 L308.2 2089 L313.7 2089 L319.1 2089 L324.5 2089 L329.9 2089 L335.4 2089 L340.8 2089 L346.2 2088.9 L351.7 2088.9 L357.1 2088.9 L362.5 2088.8 L367.9 2088.7 L373.4 2088.6 L378.8 2088.4 L384.2 2088.1 L389.6 2087.8 L395.1 2087.3 L400.5 2086.6 L405.9 2085.7 L411.4 2084.6 L416.2 2083.2 L421 2081.6 L425.8 2079.4 L430.7 2076.8 L434.9 2074 L439.1 2070.7 L443.3 2066.8 L446.9 2062.9 L450.6 2058.4 L453.6 2054.2 L456.6 2049.5 L459.6 2044.3 L462 2039.8 L464.4 2035 L466.8 2029.7 L469.2 2024.1 L471.7 2018.1 L473.5 2013.4 L475.3 2008.4 L477.1 2003.1 L478.9 1997.6 L480.7 1991.9 L482.5 1985.9 L484.3 1979.7 L486.1 1973.2 L487.9 1966.5 L489.8 1959.5 L491.6 1952.2 L492.8 1947.3 L494 1942.2 L495.2 1937 L496.4 1931.8 L497.6 1926.4 L498.8 1920.9 L500 1915.3 L501.2 1909.6 L502.4 1903.9 L503.6 1898 L504.8 1892.1 L506 1886 L507.2 1879.9 L508.4 1873.7 L509.7 1867.4 L510.9 1861.1 L512.1 1854.7 L513.3 1848.2 L514.5 1841.7 L515.7 1835.2 L516.9 1828.6 L518.1 1821.9 L519.3 1815.2 L520.5 1808.6 L521.7 1801.8 L522.9 1795.1 L524.1 1788.4 L525.3 1781.7 L526.5 1775 L527.7 1768.3 L528.9 1761.6 L530.2 1755 L531.4 1748.4 L532.6 1741.8 L533.8 1735.4 L535 1729 L536.2 1722.6 L537.4 1716.4 L538.6 1710.2 L539.8 1704.2 L541 1698.3 L542.2 1692.4 L543.4 1686.8 L544.6 1681.2 L545.8 1675.8 L547 1670.6 L548.2 1665.5 L549.5 1660.6 L551.3 1653.6 L553.1 1647.1 L554.9 1641 L556.7 1635.4 L558.5 1630.3 L560.9 1624.5 L563.3 1619.6 L566.3 1615.2 L568.7 1612.9 L570.6 1612.1 L572.4 1612.1 L574.8 1613.5 L578.4 1617.8 L581.4 1623.4 L583.8 1629 L585.6 1633.9 L587.4 1639.4 L589.3 1645.3 L591.1 1651.8 L592.9 1658.6 L594.7 1665.9 L595.9 1671 L597.1 1676.3 L598.3 1681.7 L599.5 1687.2 L600.7 1692.9 L601.9 1698.7 L603.1 1704.7 L604.3 1710.7 L605.5 1716.9 L606.7 1723.2 L607.9 1729.5 L609.2 1735.9 L610.4 1742.4 L611.6 1748.9 L612.8 1755.5 L614 1762.1 L615.2 1768.8 L616.4 1775.5 L617.6 1782.2 L618.8 1788.9 L620 1795.7 L621.2 1802.4 L622.4 1809.1 L623.6 1815.8 L624.8 1822.5 L626 1829.1 L627.2 1835.7 L628.4 1842.3 L629.7 1848.8 L630.9 1855.2 L632.1 1861.6 L633.3 1868 L634.5 1874.2 L635.7 1880.4 L636.9 1886.5 L638.1 1892.6 L639.3 1898.5 L640.5 1904.4 L641.7 1910.1 L642.9 1915.8 L644.1 1921.4 L645.3 1926.8 L646.5 1932.2 L647.7 1937.5 L649 1942.6 L650.2 1947.7 L651.4 1952.6 L653.2 1959.9 L655 1966.8 L656.8 1973.6 L658.6 1980 L660.4 1986.2 L662.2 1992.2 L664 1997.9 L665.8 2003.4 L667.6 2008.6 L669.5 2013.6 L671.3 2018.4 L673.7 2024.4 L676.1 2030 L678.5 2035.2 L680.9 2040 L683.3 2044.5 L686.3 2049.7 L689.4 2054.3 L692.4 2058.5 L696 2063 L699.6 2066.9 L703.8 2070.8 L708 2074.1 L712.3 2076.9 L717.1 2079.5 L721.9 2081.6 L726.7 2083.3 L731.6 2084.6 L737 2085.8 L742.4 2086.6 L747.8 2087.3 L753.3 2087.8 L758.7 2088.1 L764.1 2088.4 L769.6 2088.6 L775 2088.7 L780.4 2088.8 L785.8 2088.9 L791.3 2088.9 L796.7 2088.9 L802.1 2089 L807.5 2089 L813 2089 L818.4 2089 L823.8 2089 L829.3 2089 L834.7 2089 L840.1 2089 L845.5 2089 L851 2089 L856.4 2089 L861.8 2089 L867.2 2089 L872.7 2089 L878.1 2089 L883.5 2089 L889 2089 L894.4 2089 L899.8 2089 L905.2 2089 L910.7 2089 L916.1 2089 L921.5 2089 L926.9 2089 L932.4 2089 L937.8 2089 L943.2 2089 L948.7 2089 L954.1 2089 L959.5 2089 L964.9 2089 L970.4 2089 L975.8 2089 L981.2 2089 L986.6 2089 L992.1 2089 L997.5 2089 L1002.9 2089 L1008.4 2089 L1013.8 2089 L1019.2 2089 L1024.6 2089 L1030.1 2089 L1035.5 2089 L1040.9 2089 L1046.4 2089 L1051.8 2089 L1057.2 2089 L1062.6 2089 L1068.1 2089.1 L1073.5 2089.1 L1078.9 2089.1 L1084.3 2089.2 L1089.8 2089.3 L1095.2 2089.4 L1100.6 2089.6 L1106.1 2089.8 L1111.5 2090.1 L1116.9 2090.6 L1122.3 2091.2 L1127.8 2092 L1133.2 2093.1 L1138.6 2094.6 L1143.4 2096.2 L1148.3 2098.3 L1153.1 2100.8 L1157.3 2103.5 L1161.5 2106.8 L1165.8 2110.6 L1169.4 2114.5 L1173 2118.8 L1176 2123 L1179 2127.5 L1182 2132.6 L1184.4 2137 L1186.9 2141.8 L1189.3 2146.9 L1191.7 2152.4 L1194.1 2158.3 L1195.9 2163 L1197.7 2168 L1199.5 2173.1 L1201.3 2178.5 L1203.1 2184.2 L1204.9 2190.1 L1206.8 2196.2 L1208.6 2202.6 L1210.4 2209.3 L1212.2 2216.2 L1214 2223.3 L1215.2 2228.2 L1216.4 2233.2 L1217.6 2238.4 L1218.8 2243.6 L1220 2248.9 L1221.2 2254.3 L1222.4 2259.9 L1223.6 2265.5 L1224.8 2271.2 L1226.1 2277 L1227.3 2283 L1228.5 2289 L1229.7 2295 L1230.9 2301.2 L1232.1 2307.4 L1233.3 2313.7 L1234.5 2320.1 L1235.7 2326.5 L1236.9 2333 L1238.1 2339.6 L1239.3 2346.1 L1240.5 2352.8 L1241.7 2359.4 L1242.9 2366.1 L1244.1 2372.8 L1245.4 2379.5 L1246.6 2386.2 L1247.8 2393 L1249 2399.7 L1250.2 2406.4 L1251.4 2413.1 L1252.6 2419.7 L1253.8 2426.3 L1255 2432.9 L1256.2 2439.4 L1257.4 2445.8 L1258.6 2452.2 L1259.8 2458.5 L1261 2464.7 L1262.2 2470.8 L1263.4 2476.8 L1264.6 2482.7 L1265.9 2488.4 L1267.1 2494 L1268.3 2499.5 L1269.5 2504.8 L1270.7 2510 L1271.9 2515 L1273.7 2522.1 L1275.5 2528.8 L1277.3 2535 L1279.1 2540.8 L1280.9 2546 L1282.7 2550.7 L1285.2 2556.1 L1288.2 2561.3 L1291.2 2564.6 L1293.6 2565.9 L1295.4 2565.9 L1297.8 2564.5 L1301.4 2560.2 L1304.4 2554.6 L1306.9 2549 L1308.7 2544.1 L1310.5 2538.6 L1312.3 2532.7 L1314.1 2526.2 L1315.9 2519.4 L1317.7 2512.1 L1318.9 2507 L1320.1 2501.7 L1321.3 2496.3 L1322.5 2490.8 L1323.7 2485.1 L1325 2479.3 L1326.2 2473.3 L1327.4 2467.3 L1328.6 2461.1 L1329.8 2454.8 L1331 2448.5 L1332.2 2442.1 L1333.4 2435.6 L1334.6 2429.1 L1335.8 2422.5 L1337 2415.9 L1338.2 2409.2 L1339.4 2402.5 L1340.6 2395.8 L1341.8 2389.1 L1343 2382.3 L1344.2 2375.6 L1345.5 2368.9 L1346.7 2362.2 L1347.9 2355.5 L1349.1 2348.9 L1350.3 2342.3 L1351.5 2335.7 L1352.7 2329.2 L1353.9 2322.8 L1355.1 2316.4 L1356.3 2310 L1357.5 2303.8 L1358.7 2297.6 L1359.9 2291.5 L1361.1 2285.4 L1362.3 2279.5 L1363.5 2273.6 L1364.8 2267.9 L1366 2262.2 L1367.2 2256.6 L1368.4 2251.2 L1369.6 2245.8 L1370.8 2240.5 L1372 2235.4 L1373.2 2230.3 L1374.4 2225.4 L1376.2 2218.1 L1378 2211.2 L1379.8 2204.4 L1381.6 2198 L1383.4 2191.8 L1385.3 2185.8 L1387.1 2180.1 L1388.9 2174.6 L1390.7 2169.4 L1392.5 2164.4 L1394.3 2159.6 L1396.7 2153.6 L1399.1 2148 L1401.5 2142.8 L1403.9 2138 L1406.4 2133.5 L1409.4 2128.3 L1412.4 2123.7 L1415.4 2119.5 L1419 2115 L1422.6 2111.1 L1426.9 2107.2 L1431.1 2103.9 L1435.3 2101.1 L1440.1 2098.5 L1445 2096.4 L1449.8 2094.7 L1454.6 2093.4 L1460 2092.2 L1465.5 2091.4 L1470.9 2090.7 L1476.3 2090.2 L1481.7 2089.9 L1487.2 2089.6 L1492.6 2089.4 L1498 2089.3 L1503.4 2089.2 L1508.9 2089.1 L1514.3 2089.1 L1519.7 2089.1 L1525.2 2089 L1530.6 2089 L1536 2089 L1541.4 2089 L1546.9 2089 L1552.3 2089 L1557.7 2089 L1563.2 2089 L1568.6 2089 L1574 2089 L1579.4 2089 L1584.9 2089 L1590.3 2089 L1595.7 2089 L1601.1 2089 L1606.6 2089 L1612 2089 L1617.4 2089 L1622.9 2089 L1628.3 2089 L1633.7 2089 L1639.1 2089 L1644.6 2089 L1650 2089 L1655.4 2089 L1660.8 2089 L1666.3 2089 L1667.5 2089" stroke="#0000ff" stroke-width="5.0" fill="none" stroke-linejoin="round"/>
<path d="M221.4 2089 L226.8 2089 L232.3 2089 L237.7 2089 L243.1 2089 L248.5 2089 L254 2089 L259.4 2089 L264.8 2089 L270.2 2089 L275.7 2089 L281.1 2089 L286.5 2089 L292 2089 L297.4 2089 L302.8 2088.9 L308.2 2088.9 L313.7 2088.8 L319.1 2088.8 L324.5 2088.6 L329.9 2088.5 L335.4 2088.3 L340.8 2088 L346.2 2087.6 L351.7 2087 L357.1 2086.2 L362.5 2085.2 L367.9 2083.9 L372.8 2082.4 L377.6 2080.5 L382.4 2078.1 L387.2 2075.2 L391.5 2072 L395.7 2068.4 L399.3 2064.7 L402.9 2060.4 L406.5 2055.6 L409.5 2051.1 L412.6 2046.1 L415.6 2040.6 L418 2035.8 L420.4 2030.6 L422.8 2025.1 L425.2 2019.2 L427 2014.4 L428.8 2009.5 L430.7 2004.3 L432.5 1998.9 L434.3 1993.2 L436.1 1987.3 L437.9 1981.1 L439.7 1974.7 L441.5 1968 L443.3 1961.1 L445.1 1953.9 L446.3 1949 L447.5 1943.9 L448.7 1938.8 L449.9 1933.5 L451.2 1928.2 L452.4 1922.8 L453.6 1917.2 L454.8 1911.6 L456 1905.8 L457.2 1900 L458.4 1894.1 L459.6 1888 L460.8 1882 L462 1875.8 L463.2 1869.5 L464.4 1863.2 L465.6 1856.8 L466.8 1850.4 L468 1843.9 L469.2 1837.4 L470.5 1830.8 L471.7 1824.1 L472.9 1817.5 L474.1 1810.8 L475.3 1804.1 L476.5 1797.4 L477.7 1790.6 L478.9 1783.9 L480.1 1777.2 L481.3 1770.5 L482.5 1763.8 L483.7 1757.2 L484.9 1750.6 L486.1 1744 L487.3 1737.5 L488.5 1731.1 L489.8 1724.7 L491 1718.5 L492.2 1712.3 L493.4 1706.2 L494.6 1700.2 L495.8 1694.4 L497 1688.7 L498.2 1683.1 L499.4 1677.6 L500.6 1672.3 L501.8 1667.2 L503 1662.2 L504.8 1655.1 L506.6 1648.5 L508.4 1642.3 L510.3 1636.6 L512.1 1631.4 L514.5 1625.4 L516.9 1620.4 L519.9 1615.7 L522.9 1612.8 L524.7 1612.1 L526.5 1612.2 L528.9 1613.6 L532.6 1618.1 L535 1622.5 L537.4 1628 L539.2 1632.8 L541 1638.1 L542.8 1644 L544.6 1650.3 L546.4 1657.1 L548.2 1664.3 L549.5 1669.3 L550.7 1674.5 L551.9 1679.8 L553.1 1685.4 L554.3 1691 L555.5 1696.8 L556.7 1702.7 L557.9 1708.7 L559.1 1714.8 L560.3 1721.1 L561.5 1727.4 L562.7 1733.7 L563.9 1740.2 L565.1 1746.7 L566.3 1753.3 L567.5 1759.9 L568.7 1766.6 L570 1773.3 L571.2 1780 L572.4 1786.7 L573.6 1793.4 L574.8 1800.1 L576 1806.9 L577.2 1813.6 L578.4 1820.2 L579.6 1826.9 L580.8 1833.5 L582 1840.1 L583.2 1846.6 L584.4 1853.1 L585.6 1859.5 L586.8 1865.8 L588 1872.1 L589.3 1878.3 L590.5 1884.5 L591.7 1890.5 L592.9 1896.5 L594.1 1902.4 L595.3 1908.2 L596.5 1913.9 L597.7 1919.5 L598.9 1925 L600.1 1930.4 L601.3 1935.7 L602.5 1940.9 L603.7 1946 L604.9 1951 L606.1 1955.9 L607.9 1963 L609.8 1969.8 L611.6 1976.5 L613.4 1982.8 L615.2 1988.9 L617 1994.8 L618.8 2000.4 L620.6 2005.8 L622.4 2010.9 L624.2 2015.8 L626.6 2021.9 L629.1 2027.7 L631.5 2033.1 L633.9 2038 L636.3 2042.7 L639.3 2048 L642.3 2052.8 L645.3 2057.2 L649 2061.8 L652.6 2065.8 L656.2 2069.4 L660.4 2072.9 L664.6 2075.9 L669.5 2078.7 L674.3 2080.9 L679.1 2082.8 L683.9 2084.2 L689.4 2085.5 L694.8 2086.4 L700.2 2087.1 L705.6 2087.7 L711.1 2088 L716.5 2088.3 L721.9 2088.5 L727.3 2088.7 L732.8 2088.8 L738.2 2088.8 L743.6 2088.9 L749.1 2088.9 L754.5 2089 L759.9 2089 L765.3 2089 L770.8 2089 L776.2 2089 L781.6 2089 L787 2089 L792.5 2089 L797.9 2089 L803.3 2089 L808.8 2089 L814.2 2089 L819.6 2089 L825 2089 L830.5 2089 L835.9 2089 L841.3 2089 L846.7 2089 L852.2 2089 L857.6 2089 L863 2089 L868.5 2089 L873.9 2089 L879.3 2089 L884.7 2089 L890.2 2089 L895.6 2089 L901 2089 L906.4 2089 L911.9 2089 L917.3 2089 L922.7 2089 L928.2 2089 L933.6 2089 L939 2089 L944.4 2089 L949.9 2089 L955.3 2089 L960.7 2089 L966.1 2089 L971.6 2089 L977 2089 L982.4 2089 L987.9 2089 L993.3 2089 L998.7 2089 L1004.1 2089 L1009.6 2089 L1015 2089 L1020.4 2089 L1025.8 2089.1 L1031.3 2089.1 L1036.7 2089.2 L1042.1 2089.2 L1047.6 2089.4 L1053 2089.5 L1058.4 2089.7 L1063.8 2090 L1069.3 2090.4 L1074.7 2091 L1080.1 2091.8 L1085.5 2092.8 L1091 2094.1 L1095.8 2095.6 L1100.6 2097.5 L1105.4 2099.9 L1110.3 2102.8 L1114.5 2106 L1118.7 2109.6 L1122.3 2113.3 L1126 2117.6 L1129.6 2122.4 L1132.6 2126.9 L1135.6 2131.9 L1138.6 2137.4 L1141 2142.2 L1143.4 2147.4 L1145.9 2152.9 L1148.3 2158.8 L1150.1 2163.6 L1151.9 2168.5 L1153.7 2173.7 L1155.5 2179.1 L1157.3 2184.8 L1159.1 2190.7 L1160.9 2196.9 L1162.7 2203.3 L1164.5 2210 L1166.4 2216.9 L1168.2 2224.1 L1169.4 2229 L1170.6 2234.1 L1171.8 2239.2 L1173 2244.5 L1174.2 2249.8 L1175.4 2255.2 L1176.6 2260.8 L1177.8 2266.4 L1179 2272.2 L1180.2 2278 L1181.4 2283.9 L1182.6 2290 L1183.8 2296 L1185 2302.2 L1186.3 2308.5 L1187.5 2314.8 L1188.7 2321.2 L1189.9 2327.6 L1191.1 2334.1 L1192.3 2340.6 L1193.5 2347.2 L1194.7 2353.9 L1195.9 2360.5 L1197.1 2367.2 L1198.3 2373.9 L1199.5 2380.6 L1200.7 2387.4 L1201.9 2394.1 L1203.1 2400.8 L1204.3 2407.5 L1205.6 2414.2 L1206.8 2420.8 L1208 2427.4 L1209.2 2434 L1210.4 2440.5 L1211.6 2446.9 L1212.8 2453.3 L1214 2459.5 L1215.2 2465.7 L1216.4 2471.8 L1217.6 2477.8 L1218.8 2483.6 L1220 2489.3 L1221.2 2494.9 L1222.4 2500.4 L1223.6 2505.7 L1224.8 2510.8 L1226.1 2515.8 L1227.9 2522.9 L1229.7 2529.5 L1231.5 2535.7 L1233.3 2541.4 L1235.1 2546.6 L1237.5 2552.6 L1239.9 2557.6 L1242.9 2562.3 L1246 2565.2 L1247.8 2565.9 L1249.6 2565.8 L1252 2564.4 L1255.6 2559.9 L1258 2555.5 L1260.4 2550 L1262.2 2545.2 L1264 2539.9 L1265.9 2534 L1267.7 2527.7 L1269.5 2520.9 L1271.3 2513.7 L1272.5 2508.7 L1273.7 2503.5 L1274.9 2498.2 L1276.1 2492.6 L1277.3 2487 L1278.5 2481.2 L1279.7 2475.3 L1280.9 2469.3 L1282.1 2463.2 L1283.3 2456.9 L1284.5 2450.6 L1285.8 2444.3 L1287 2437.8 L1288.2 2431.3 L1289.4 2424.7 L1290.6 2418.1 L1291.8 2411.4 L1293 2404.7 L1294.2 2398 L1295.4 2391.3 L1296.6 2384.6 L1297.8 2377.9 L1299 2371.1 L1300.2 2364.4 L1301.4 2357.8 L1302.6 2351.1 L1303.8 2344.5 L1305.1 2337.9 L1306.3 2331.4 L1307.5 2324.9 L1308.7 2318.5 L1309.9 2312.2 L1311.1 2305.9 L1312.3 2299.7 L1313.5 2293.5 L1314.7 2287.5 L1315.9 2281.5 L1317.1 2275.6 L1318.3 2269.8 L1319.5 2264.1 L1320.7 2258.5 L1321.9 2253 L1323.1 2247.6 L1324.3 2242.3 L1325.6 2237.1 L1326.8 2232 L1328 2227 L1329.2 2222.1 L1331 2215 L1332.8 2208.2 L1334.6 2201.5 L1336.4 2195.2 L1338.2 2189.1 L1340 2183.2 L1341.8 2177.6 L1343.6 2172.2 L1345.5 2167.1 L1347.3 2162.2 L1349.7 2156.1 L1352.1 2150.3 L1354.5 2144.9 L1356.9 2140 L1359.3 2135.3 L1362.3 2130 L1365.4 2125.2 L1368.4 2120.8 L1372 2116.2 L1375.6 2112.2 L1379.2 2108.6 L1383.4 2105.1 L1387.7 2102.1 L1392.5 2099.3 L1397.3 2097.1 L1402.1 2095.2 L1407 2093.8 L1412.4 2092.5 L1417.8 2091.6 L1423.2 2090.9 L1428.7 2090.3 L1434.1 2090 L1439.5 2089.7 L1445 2089.5 L1450.4 2089.3 L1455.8 2089.2 L1461.2 2089.2 L1466.7 2089.1 L1472.1 2089.1 L1477.5 2089 L1482.9 2089 L1488.4 2089 L1493.8 2089 L1499.2 2089 L1504.7 2089 L1510.1 2089 L1515.5 2089 L1520.9 2089 L1526.4 2089 L1531.8 2089 L1537.2 2089 L1542.6 2089 L1548.1 2089 L1553.5 2089 L1558.9 2089 L1564.4 2089 L1569.8 2089 L1575.2 2089 L1580.6 2089 L1586.1 2089 L1591.5 2089 L1596.9 2089 L1602.3 2089 L1607.8 2089 L1613.2 2089 L1618.6 2089 L1624.1 2089 L1629.5 2089 L1634.9 2089 L1640.3 2089 L1645.8 2089 L1651.2 2089 L1656.6 2089 L1662 2089 L1667.5 2089" stroke="#ff0000" stroke-width="5.8" fill="none" stroke-linejoin="round" stroke-dasharray="21 2.9"/>
<path d="M221.4 2089 L226.8 2089 L232.3 2089 L237.7 2089 L243.1 2088.9 L248.5 2088.9 L254 2088.9 L259.4 2088.8 L264.8 2088.7 L270.2 2088.6 L275.7 2088.4 L281.1 2088.1 L286.5 2087.7 L292 2087.2 L297.4 2086.6 L302.8 2085.7 L308.2 2084.5 L313.1 2083.1 L317.9 2081.4 L322.7 2079.2 L327.5 2076.6 L331.8 2073.7 L336 2070.3 L340.2 2066.3 L343.8 2062.3 L347.4 2057.8 L350.4 2053.5 L353.5 2048.8 L356.5 2043.5 L358.9 2039 L361.3 2034 L363.7 2028.7 L366.1 2023.1 L368.5 2017 L370.3 2012.1 L372.2 2007.1 L374 2001.8 L375.8 1996.2 L377.6 1990.4 L379.4 1984.4 L381.2 1978.1 L383 1971.5 L384.8 1964.7 L386.6 1957.7 L388.4 1950.4 L389.6 1945.4 L390.9 1940.3 L392.1 1935.1 L393.3 1929.8 L394.5 1924.4 L395.7 1918.8 L396.9 1913.2 L398.1 1907.5 L399.3 1901.7 L400.5 1895.8 L401.7 1889.8 L402.9 1883.8 L404.1 1877.6 L405.3 1871.4 L406.5 1865.1 L407.7 1858.7 L408.9 1852.3 L410.1 1845.8 L411.4 1839.3 L412.6 1832.7 L413.8 1826.1 L415 1819.4 L416.2 1812.8 L417.4 1806.1 L418.6 1799.3 L419.8 1792.6 L421 1785.9 L422.2 1779.2 L423.4 1772.5 L424.6 1765.8 L425.8 1759.1 L427 1752.5 L428.2 1745.9 L429.4 1739.4 L430.7 1733 L431.9 1726.6 L433.1 1720.3 L434.3 1714.1 L435.5 1708 L436.7 1702 L437.9 1696.1 L439.1 1690.3 L440.3 1684.7 L441.5 1679.2 L442.7 1673.9 L443.9 1668.7 L445.1 1663.7 L446.9 1656.5 L448.7 1649.8 L450.6 1643.5 L452.4 1637.7 L454.2 1632.4 L456 1627.7 L458.4 1622.2 L461.4 1617 L464.4 1613.5 L466.8 1612.1 L468.6 1612.1 L471.1 1613.3 L474.1 1616.7 L477.1 1621.8 L479.5 1627.1 L481.3 1631.8 L483.1 1637 L484.9 1642.8 L486.7 1649 L488.5 1655.7 L490.4 1662.8 L491.6 1667.8 L492.8 1673 L494 1678.3 L495.2 1683.7 L496.4 1689.3 L497.6 1695.1 L498.8 1700.9 L500 1706.9 L501.2 1713 L502.4 1719.2 L503.6 1725.5 L504.8 1731.9 L506 1738.3 L507.2 1744.8 L508.4 1751.4 L509.7 1758 L510.9 1764.6 L512.1 1771.3 L513.3 1778 L514.5 1784.7 L515.7 1791.4 L516.9 1798.2 L518.1 1804.9 L519.3 1811.6 L520.5 1818.3 L521.7 1824.9 L522.9 1831.6 L524.1 1838.2 L525.3 1844.7 L526.5 1851.2 L527.7 1857.6 L528.9 1864 L530.2 1870.3 L531.4 1876.5 L532.6 1882.7 L533.8 1888.8 L535 1894.8 L536.2 1900.7 L537.4 1906.5 L538.6 1912.2 L539.8 1917.9 L541 1923.4 L542.2 1928.8 L543.4 1934.2 L544.6 1939.4 L545.8 1944.5 L547 1949.6 L548.2 1954.5 L550.1 1961.6 L551.9 1968.5 L553.7 1975.2 L555.5 1981.6 L557.3 1987.7 L559.1 1993.7 L560.9 1999.3 L562.7 2004.7 L564.5 2009.9 L566.3 2014.8 L568.1 2019.5 L570.6 2025.4 L573 2031 L575.4 2036.1 L577.8 2040.9 L580.2 2045.3 L583.2 2050.4 L586.2 2055 L589.3 2059.1 L592.9 2063.5 L596.5 2067.3 L600.7 2071.2 L604.9 2074.4 L609.2 2077.2 L614 2079.7 L618.8 2081.8 L623.6 2083.4 L629.1 2084.9 L634.5 2086 L639.9 2086.8 L645.3 2087.4 L650.8 2087.9 L656.2 2088.2 L661.6 2088.4 L667 2088.6 L672.5 2088.7 L677.9 2088.8 L683.3 2088.9 L688.8 2088.9 L694.2 2088.9 L699.6 2089 L705 2089 L710.5 2089 L715.9 2089 L721.3 2089 L726.7 2089 L732.2 2089 L737.6 2089 L743 2089 L748.5 2089 L753.9 2089 L759.3 2089 L764.7 2089 L770.2 2089 L775.6 2089 L781 2089 L786.4 2089 L791.9 2089 L797.3 2089 L802.7 2089 L808.2 2089 L813.6 2089 L819 2089 L824.4 2089 L829.9 2089 L835.3 2089 L840.7 2089 L846.1 2089 L851.6 2089 L857 2089 L862.4 2089 L867.9 2089 L873.3 2089 L878.7 2089 L884.1 2089 L889.6 2089 L895 2089 L900.4 2089 L905.8 2089 L911.3 2089 L916.7 2089 L922.1 2089 L927.6 2089 L933 2089 L938.4 2089 L943.8 2089 L949.3 2089 L954.7 2089 L960.1 2089 L965.5 2089.1 L971 2089.1 L976.4 2089.1 L981.8 2089.2 L987.3 2089.3 L992.7 2089.4 L998.1 2089.6 L1003.5 2089.9 L1009 2090.2 L1014.4 2090.7 L1019.8 2091.4 L1025.2 2092.2 L1030.7 2093.4 L1035.5 2094.7 L1040.3 2096.4 L1045.1 2098.5 L1050 2101.1 L1054.2 2103.9 L1058.4 2107.2 L1062.6 2111.1 L1066.3 2115 L1069.9 2119.4 L1072.9 2123.6 L1075.9 2128.2 L1078.9 2133.4 L1081.3 2137.9 L1083.7 2142.7 L1086.2 2147.9 L1088.6 2153.5 L1091 2159.5 L1092.8 2164.2 L1094.6 2169.2 L1096.4 2174.4 L1098.2 2179.9 L1100 2185.6 L1101.8 2191.6 L1103.6 2197.8 L1105.4 2204.2 L1107.3 2211 L1109.1 2217.9 L1110.9 2225.1 L1112.1 2230.1 L1113.3 2235.1 L1114.5 2240.3 L1115.7 2245.5 L1116.9 2250.9 L1118.1 2256.4 L1119.3 2262 L1120.5 2267.6 L1121.7 2273.4 L1122.9 2279.2 L1124.1 2285.2 L1125.3 2291.2 L1126.6 2297.3 L1127.8 2303.5 L1129 2309.8 L1130.2 2316.1 L1131.4 2322.5 L1132.6 2328.9 L1133.8 2335.4 L1135 2342 L1136.2 2348.6 L1137.4 2355.2 L1138.6 2361.9 L1139.8 2368.6 L1141 2375.3 L1142.2 2382 L1143.4 2388.8 L1144.6 2395.5 L1145.9 2402.2 L1147.1 2408.9 L1148.3 2415.6 L1149.5 2422.2 L1150.7 2428.8 L1151.9 2435.3 L1153.1 2441.8 L1154.3 2448.2 L1155.5 2454.6 L1156.7 2460.8 L1157.9 2467 L1159.1 2473 L1160.3 2479 L1161.5 2484.8 L1162.7 2490.5 L1163.9 2496.1 L1165.1 2501.5 L1166.4 2506.7 L1167.6 2511.8 L1168.8 2516.8 L1170.6 2523.8 L1172.4 2530.4 L1174.2 2536.5 L1176 2542.1 L1177.8 2547.2 L1180.2 2553.2 L1182.6 2558.1 L1185.7 2562.7 L1188.7 2565.3 L1190.5 2566 L1192.3 2565.7 L1194.7 2564.2 L1198.3 2559.5 L1200.7 2555 L1203.1 2549.4 L1204.9 2544.5 L1206.8 2539.1 L1208.6 2533.2 L1210.4 2526.8 L1212.2 2520 L1214 2512.7 L1215.2 2507.6 L1216.4 2502.4 L1217.6 2497 L1218.8 2491.5 L1220 2485.8 L1221.2 2480 L1222.4 2474.1 L1223.6 2468 L1224.8 2461.9 L1226.1 2455.7 L1227.3 2449.3 L1228.5 2442.9 L1229.7 2436.4 L1230.9 2429.9 L1232.1 2423.3 L1233.3 2416.7 L1234.5 2410 L1235.7 2403.3 L1236.9 2396.6 L1238.1 2389.9 L1239.3 2383.2 L1240.5 2376.5 L1241.7 2369.8 L1242.9 2363.1 L1244.1 2356.4 L1245.4 2349.7 L1246.6 2343.1 L1247.8 2336.6 L1249 2330.1 L1250.2 2323.6 L1251.4 2317.2 L1252.6 2310.8 L1253.8 2304.6 L1255 2298.4 L1256.2 2292.3 L1257.4 2286.2 L1258.6 2280.3 L1259.8 2274.4 L1261 2268.6 L1262.2 2262.9 L1263.4 2257.3 L1264.6 2251.9 L1265.9 2246.5 L1267.1 2241.2 L1268.3 2236 L1269.5 2230.9 L1270.7 2226 L1271.9 2221.1 L1273.7 2214.1 L1275.5 2207.2 L1277.3 2200.7 L1279.1 2194.3 L1280.9 2188.3 L1282.7 2182.4 L1284.5 2176.9 L1286.4 2171.5 L1288.2 2166.4 L1290 2161.6 L1292.4 2155.5 L1294.8 2149.7 L1297.2 2144.4 L1299.6 2139.5 L1302 2134.9 L1305.1 2129.6 L1308.1 2124.8 L1311.1 2120.5 L1314.7 2115.9 L1318.3 2111.9 L1321.9 2108.4 L1326.2 2104.9 L1330.4 2102 L1335.2 2099.2 L1340 2096.9 L1344.9 2095.2 L1349.7 2093.7 L1355.1 2092.5 L1360.5 2091.6 L1366 2090.9 L1371.4 2090.3 L1376.8 2089.9 L1382.2 2089.7 L1387.7 2089.5 L1393.1 2089.3 L1398.5 2089.2 L1403.9 2089.2 L1409.4 2089.1 L1414.8 2089.1 L1420.2 2089 L1425.7 2089 L1431.1 2089 L1436.5 2089 L1441.9 2089 L1447.4 2089 L1452.8 2089 L1458.2 2089 L1463.6 2089 L1469.1 2089 L1474.5 2089 L1479.9 2089 L1485.4 2089 L1490.8 2089 L1496.2 2089 L1501.6 2089 L1507.1 2089 L1512.5 2089 L1517.9 2089 L1523.4 2089 L1528.8 2089 L1534.2 2089 L1539.6 2089 L1545.1 2089 L1550.5 2089 L1555.9 2089 L1561.3 2089 L1566.8 2089 L1572.2 2089 L1577.6 2089 L1583.1 2089 L1588.5 2089 L1593.9 2089 L1599.3 2089 L1604.8 2089 L1610.2 2089 L1615.6 2089 L1621 2089 L1626.5 2089 L1631.9 2089 L1637.3 2089 L1642.8 2089 L1648.2 2089 L1653.6 2089 L1659 2089 L1664.5 2089 L1667.5 2089" stroke="#000000" stroke-width="6.0" fill="none" stroke-linejoin="round" stroke-dasharray="7 3"/>
<path d="M582.2 2659.7v-14M946.3 2659.7v-14M1306 2659.7v-14M1667.7 1612h-14M221.4 1707.4h14M1667.7 1707.4h-14M221.4 1802.8h14M1667.7 1802.8h-14M221.4 1898.2h14M1667.7 1898.2h-14M221.4 1993.6h14M1667.7 1993.6h-14M221.4 2089h14M1667.7 2089h-14M221.4 2184.4h14M1667.7 2184.4h-14M221.4 2279.8h14M1667.7 2279.8h-14M221.4 2375.2h14M1667.7 2375.2h-14M221.4 2470.6h14M1667.7 2470.6h-14M221.4 2566h14M1667.7 2566h-14" stroke="#545454" stroke-width="3.0" fill="none"/>
<path d="M221.4 1612h14" stroke="#c2c2c2" stroke-width="3.0" fill="none"/>
<path d="M582.2 1519.5v12M946.3 1519.5v12M1306 1519.5v12" stroke="#9a9a9a" stroke-width="2" fill="none"/>
<rect x="1306.4" y="1519.5" width="361.3" height="284.5" fill="#ffffff"/>
<path d="M1306.4 1519.5V1804.0" stroke="#8a8a8a" stroke-width="1.8" fill="none"/>
<path d="M1306.4 1804.0H1667.7" stroke="#8a8a8a" stroke-width="1.8" fill="none"/>
<path d="M1373.8 1569.5H1440" stroke="#0000ff" stroke-width="5.0" fill="none"/>
<text font-size="47" fill="#000" stroke="#000" stroke-width="0.35" transform="scale(1.1 1)" font-family='"Liberation Serif", serif'><tspan x="1313.85" y="1581.3" font-style="italic">β</tspan><tspan x="1339.63" y="1582.3" font-size="53">=</tspan><tspan x="1373.48" y="1581.3">0</tspan><tspan x="1395.63" y="1581.3">.</tspan><tspan x="1406.39" y="1581.3">0</tspan><tspan x="1430" y="1581.3">5</tspan></text>
<path d="M1373.8 1661H1440" stroke="#ff0000" stroke-width="5.8" fill="none" stroke-dasharray="21 2.9"/>
<text font-size="47" fill="#000" stroke="#000" stroke-width="0.35" transform="scale(1.1 1)" font-family='"Liberation Serif", serif'><tspan x="1313.85" y="1673" font-style="italic">β</tspan><tspan x="1339.63" y="1674" font-size="53">=</tspan><tspan x="1373.48" y="1673">0</tspan><tspan x="1395.63" y="1673">.</tspan><tspan x="1406.12" y="1673">2</tspan><tspan x="1430" y="1673">5</tspan></text>
<path d="M1373.8 1752.6H1440" stroke="#000000" stroke-width="6.0" fill="none" stroke-dasharray="7 3"/>
<text font-size="47" fill="#000" stroke="#000" stroke-width="0.35" transform="scale(1.1 1)" font-family='"Liberation Serif", serif'><tspan x="1313.85" y="1764.6" font-style="italic">β</tspan><tspan x="1339.63" y="1765.6" font-size="53">=</tspan><tspan x="1373.48" y="1764.6">0</tspan><tspan x="1395.63" y="1764.6">.</tspan><tspan x="1405.91" y="1764.6">5</tspan></text>
<path d="M221.4 1519.5H1667.7 M221.4 1519.5V2659.7" stroke="#d0d0d0" stroke-width="4" fill="none"/>
<path d="M219.8 2659.7H1667.7 V1517.5" stroke="#545454" stroke-width="3.3" fill="none"/>
<text font-size="48" text-anchor="middle" fill="#262626" stroke="#262626" stroke-width="0.8" font-family='"Liberation Serif", serif' transform="translate(221.4 2719.2) scale(1.06 1)">0</text>
<text font-size="48" fill="#262626" stroke="#262626" stroke-width="0.8" font-family='"Liberation Serif", serif'><tspan x="544.54" y="2719.2" font-style="italic">π</tspan><tspan x="573.5" y="2723.7" font-size="53" font-family='"DejaVu Serif", "Liberation Serif", serif'>/</tspan><tspan x="595.89" y="2719.2">2</tspan></text>
<text font-size="48" fill="#262626" stroke="#262626" stroke-width="0.8" font-family='"Liberation Serif", serif'><tspan x="932.24" y="2719.2" font-style="italic">π</tspan></text>
<text font-size="48" fill="#262626" stroke="#262626" stroke-width="0.8" font-family='"Liberation Serif", serif'><tspan x="1253.5" y="2719.2">3</tspan><tspan x="1282.34" y="2719.2" font-style="italic">π</tspan><tspan x="1311.5" y="2723.7" font-size="53" font-family='"DejaVu Serif", "Liberation Serif", serif'>/</tspan><tspan x="1334.09" y="2719.2">2</tspan></text>
<text font-size="48" fill="#262626" stroke="#262626" stroke-width="0.8" font-family='"Liberation Serif", serif'><tspan x="1639.89" y="2719.2">2</tspan><tspan x="1668.24" y="2719.2" font-style="italic">π</tspan></text>
<text font-size="48" text-anchor="end" fill="#262626" stroke="#262626" stroke-width="0.8" font-family='"Liberation Serif", serif' transform="translate(201.5 1626) scale(1.06 1)">1</text>
<text font-size="48" text-anchor="end" fill="#262626" stroke="#262626" stroke-width="0.8" font-family='"Liberation Serif", serif' transform="translate(201.5 1721.4) scale(1.06 1)">0.8</text>
<text font-size="48" text-anchor="end" fill="#262626" stroke="#262626" stroke-width="0.8" font-family='"Liberation Serif", serif' transform="translate(201.5 1816.8) scale(1.06 1)">0.6</text>
<text font-size="48" text-anchor="end" fill="#262626" stroke="#262626" stroke-width="0.8" font-family='"Liberation Serif", serif' transform="translate(201.5 1912.2) scale(1.06 1)">0.4</text>
<text font-size="48" text-anchor="end" fill="#262626" stroke="#262626" stroke-width="0.8" font-family='"Liberation Serif", serif' transform="translate(201.5 2007.6) scale(1.06 1)">0.2</text>
<text font-size="48" text-anchor="end" fill="#262626" stroke="#262626" stroke-width="0.8" font-family='"Liberation Serif", serif' transform="translate(201.5 2103) scale(1.06 1)">0</text>
<text font-size="48" text-anchor="end" fill="#262626" stroke="#262626" stroke-width="0.8" font-family='"Liberation Serif", serif' transform="translate(201.5 2198.4) scale(1.06 1)">-0.2</text>
<text font-size="48" text-anchor="end" fill="#262626" stroke="#262626" stroke-width="0.8" font-family='"Liberation Serif", serif' transform="translate(201.5 2293.8) scale(1.06 1)">-0.4</text>
<text font-size="48" text-anchor="end" fill="#262626" stroke="#262626" stroke-width="0.8" font-family='"Liberation Serif", serif' transform="translate(201.5 2389.2) scale(1.06 1)">-0.6</text>
<text font-size="48" text-anchor="end" fill="#262626" stroke="#262626" stroke-width="0.8" font-family='"Liberation Serif", serif' transform="translate(201.5 2484.6) scale(1.06 1)">-0.8</text>
<text font-size="48" text-anchor="end" fill="#262626" stroke="#262626" stroke-width="0.8" font-family='"Liberation Serif", serif' transform="translate(201.5 2580) scale(1.06 1)">-1</text>
<text x="945" y="2784" font-size="56" text-anchor="middle" fill="#262626" stroke="#262626" stroke-width="0.8" font-family='"Liberation Serif", serif'><tspan font-style="italic">ω</tspan>t</text>
<text x="0" y="0" font-size="55" text-anchor="middle" letter-spacing="2.5" fill="#262626" stroke="#262626" stroke-width="0.8" font-family='"Liberation Serif", serif' transform="translate(98.5 2097) rotate(-90)">f(<tspan font-style="italic">ω</tspan>t)</text>
<text font-size="86" fill="#000" font-family='"Liberation Serif", serif'><tspan x="832.22" y="2883.7">(</tspan><tspan x="859.18" y="2883.7" font-weight="bold" font-size="88">b</tspan><tspan x="910.23" y="2883.7">)</tspan></text>
</g></svg>
</body></html>
